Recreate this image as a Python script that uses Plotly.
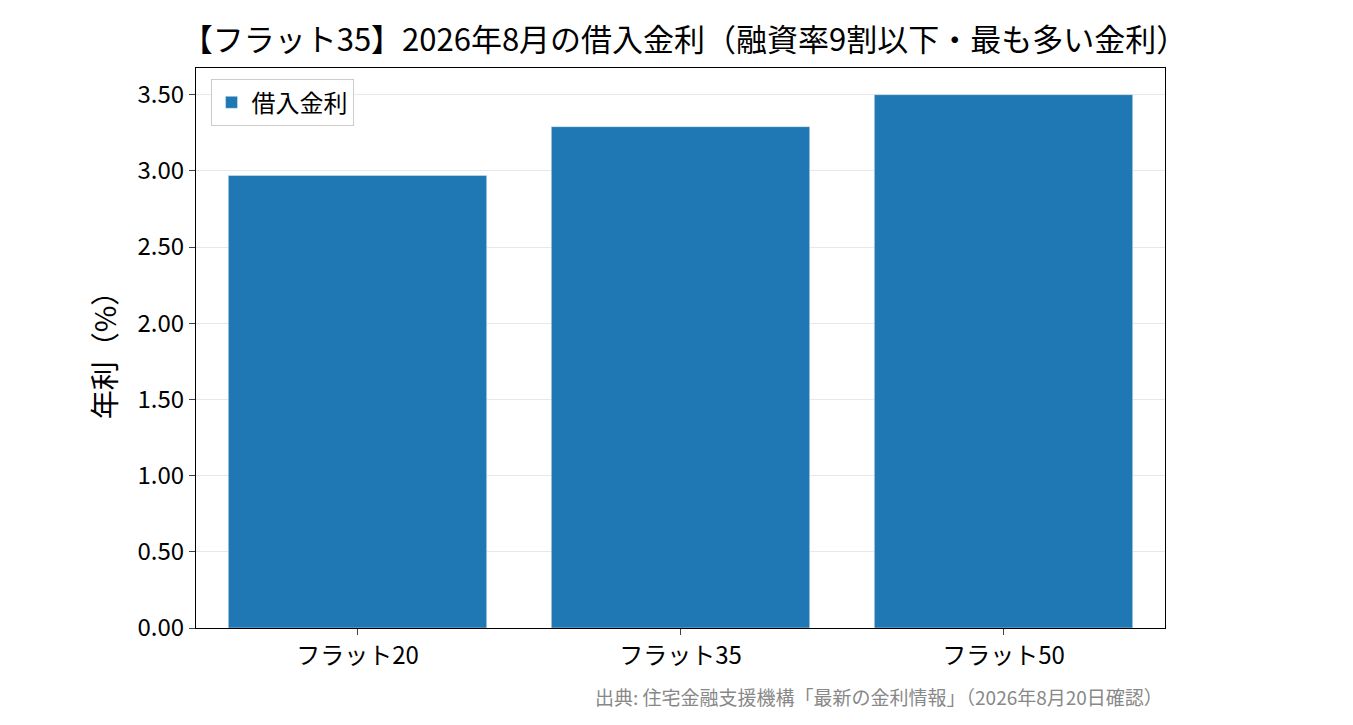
import plotly.graph_objects as go

categories = ["フラット20", "フラット35", "フラット50"]
rates = [2.97, 3.29, 3.50]
tick_vals = [0, 0.5, 1.0, 1.5, 2.0, 2.5, 3.0, 3.5]
tick_text = ["0.00", "0.50", "1.00", "1.50", "2.00", "2.50", "3.00", "3.50"]

font = "Noto Sans CJK JP"
fig = go.Figure(go.Bar(x=categories, y=rates, name="借入金利", marker_color="#1f77b4",
                       width=0.8, showlegend=True))
fig.update_layout(
    width=1353, height=725, plot_bgcolor="white", paper_bgcolor="white",
    font=dict(family=font, size=24, color="black"),
    margin=dict(l=188, r=196, t=60, b=105),
    title=dict(text="【フラット35】2026年8月の借入金利（融資率9割以下・最も多い金利）",
               x=0.5, xanchor="center", y=0.955, yanchor="middle", font=dict(size=31)),
    legend=dict(x=0.015, y=0.98, xanchor="left", yanchor="top", bordercolor="#cccccc",
                borderwidth=1, font=dict(size=24)),
    xaxis=dict(showline=True, linecolor="black", mirror=True, ticks="outside", ticklen=6,
               range=[-0.5, 2.5]),
    yaxis=dict(title=dict(text="年利（%）", standoff=12), range=[0, 3.675], tickvals=tick_vals,
               ticktext=tick_text, showgrid=True, gridcolor="#e8e8e8", showline=True,
               linecolor="black", mirror=True, ticks="outside", ticklen=6, zeroline=False),
    annotations=[dict(text="出典: 住宅金融支援機構「最新の金利情報」（2026年8月20日確認）",
                      xref="paper", yref="paper", x=1.0, y=-0.095, xanchor="right",
                      yanchor="top", showarrow=False, font=dict(size=19, color="#888888"))],
)
fig.write_html("out.html")
